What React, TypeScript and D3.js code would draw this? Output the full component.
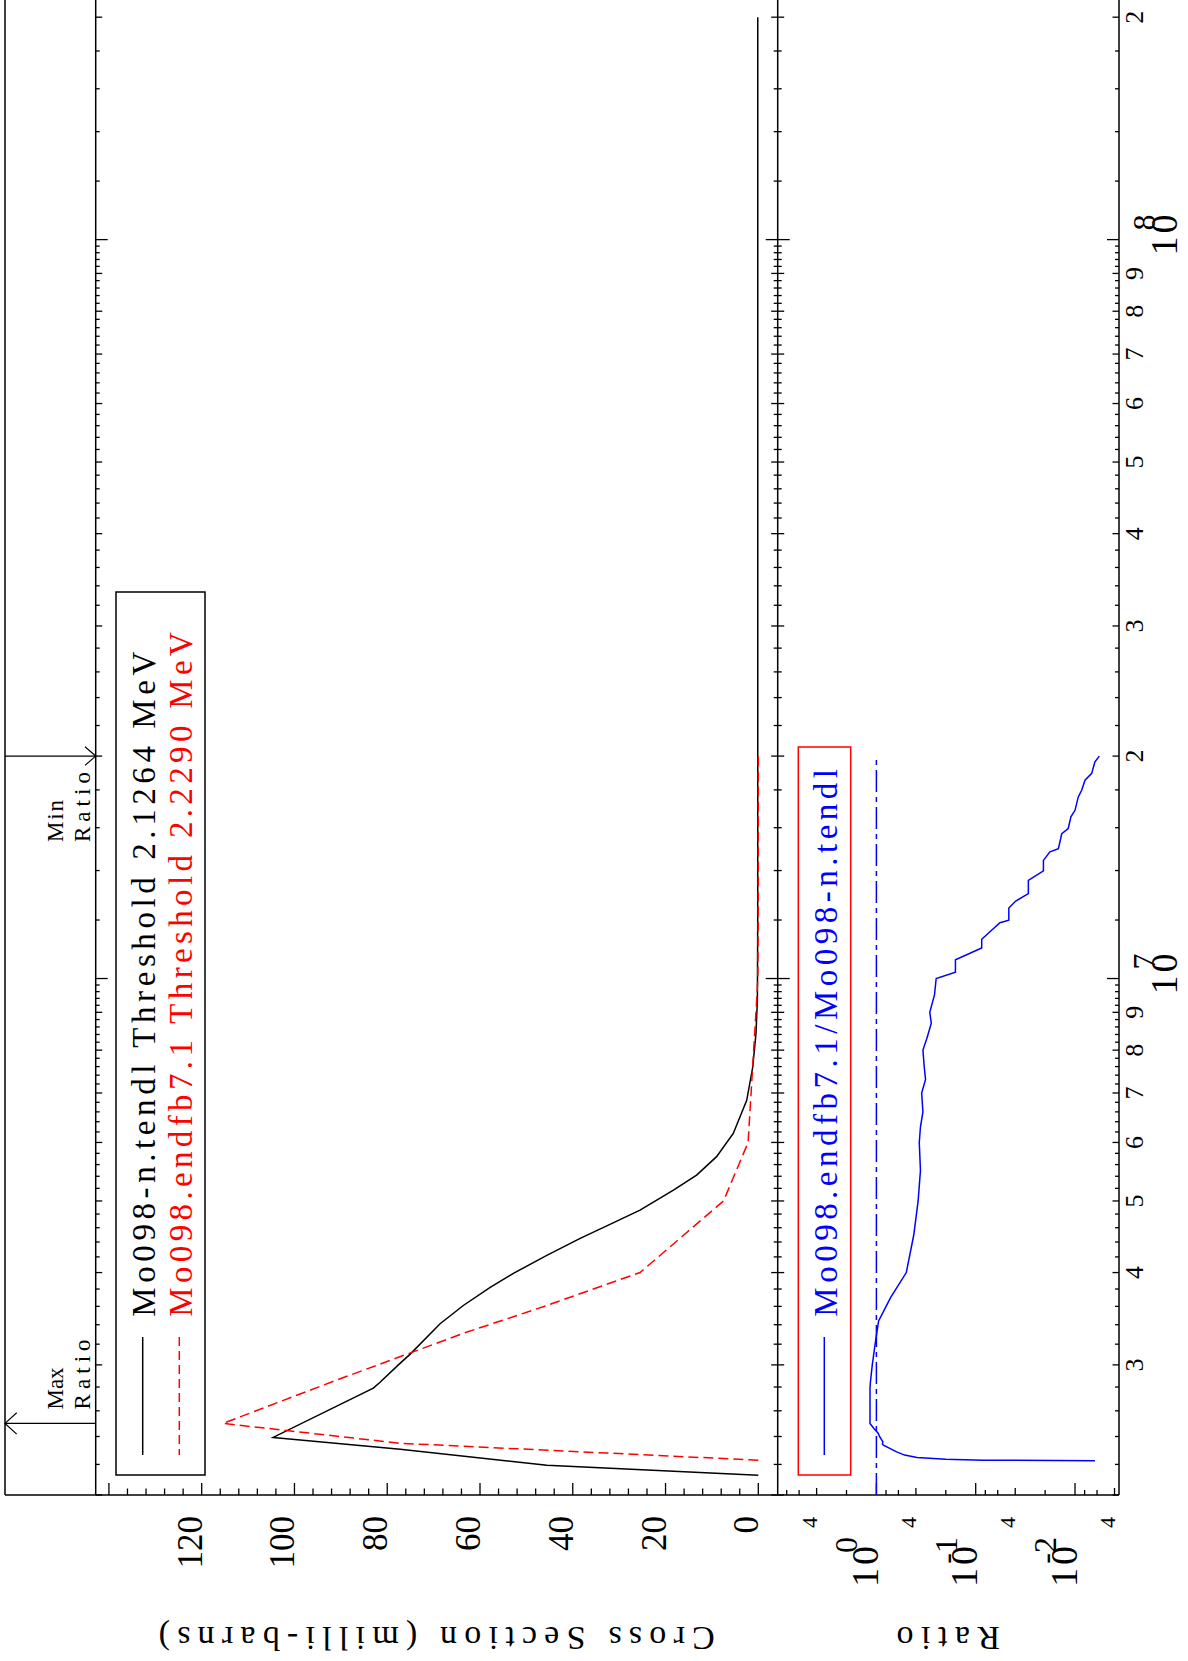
import React from "react";
import * as d3 from "d3";

// ---------- data (energies in MeV) ----------
const tendlE = [2.1264, 2.194, 2.307, 2.393, 2.79, 2.84, 3.0, 3.1, 3.41, 3.61, 3.82, 3.99, 4.22, 4.45, 4.67, 4.86, 5.17, 5.42, 5.74, 6.17, 6.84, 7.59, 8.43, 9.35, 12, 20, 50, 100, 200];
const tendlXS = [0, 45.6, 77.2, 104.6, 83.0, 81.6, 77.6, 75.1, 68.6, 63.6, 57.8, 52.8, 45.6, 38.4, 31.3, 25.5, 18.3, 13.3, 9.0, 5.4, 2.5, 1.2, 0.5, 0.2, 0.13, 0.12, 0.12, 0.12, 0.12];

const endfE = [2.229, 2.35, 2.5, 2.86, 3.0, 3.31, 3.61, 4.0, 5.0, 6.0, 9.35, 10, 12, 15, 20];
const endfXS = [0, 77.3, 115.4, 91, 82, 63.6, 45.6, 25.5, 7.5, 2.2, 0.35, 0.1, 0.03, 0.01, 0.001];

const ratioE = [2.2245, 2.2296, 2.235, 2.248, 2.265, 2.288, 2.336, 2.345, 2.36, 2.4, 2.425, 2.46, 2.5, 2.79, 2.84, 3.0, 3.2, 3.44, 3.7, 4.0, 4.5, 5.0, 5.5, 6.0, 6.3, 6.6, 7.0, 7.3, 7.6, 8.0, 8.3, 8.7, 9.0, 9.5, 10.0, 10.2, 10.6, 11.0, 11.3, 11.9, 11.99, 12.46, 12.73, 13.03, 13.58, 13.99, 14.45, 14.84, 14.99, 15.7, 15.96, 16.55, 16.89, 17.61, 17.98, 18.55, 18.95, 19.65, 20.0];
const ratioVal = [0.0063, 0.084, 0.2, 0.39, 0.52, 0.625, 0.85, 0.87, 0.86, 0.93, 0.96, 1.06, 1.16, 1.16, 1.15, 1.1, 1.03, 0.95, 0.72, 0.5, 0.42, 0.38, 0.36, 0.37, 0.36, 0.34, 0.35, 0.32, 0.33, 0.34, 0.31, 0.28, 0.29, 0.26, 0.25, 0.16, 0.16, 0.087, 0.087, 0.057, 0.0464, 0.0464, 0.0395, 0.0295, 0.0295, 0.0208, 0.0208, 0.0179, 0.0147, 0.0136, 0.0117, 0.011, 0.01, 0.00927, 0.00857, 0.00793, 0.00679, 0.0063, 0.00569];

const xsTickLabels = [0, 20, 40, 60, 80, 100, 120];
const ratioFourLabels = [4, 0.4, 0.04, 0.004];
const ratioDecades = [1, 0.1, 0.01];
const ratioDecadeExp = ["0", "-1", "-2"];
const energyDigitLabels = [3e6, 4e6, 5e6, 6e6, 7e6, 8e6, 9e6, 2e7, 3e7, 4e7, 5e7, 6e7, 7e7, 8e7, 9e7, 2e8];
const energyDecades = [1e7, 1e8];
const energyDecadeExp = ["7", "8"];
const maxRatioE = 2.5e6;
const minRatioE = 2.0e7;

const legendTendl = "Mo098-n.tendl Threshold 2.1264 MeV";
const legendEndf = "Mo098.endfb7.1 Threshold 2.2290 MeV";
const legendRatio = "Mo098.endfb7.1/Mo098-n.tendl";
const titleXS = "Cross Section (milli-barns)";
const titleRatio = "Ratio";

// ---------- layout ----------
const W = 1188, H = 1661;
const X_OUT = 5, X_LEFT = 95.7, X_DIV = 777.7, X_RIGHT = 1119, Y_BOT = 1495, Y_TOP = 0;
const NUM = "'Liberation Serif', 'Times New Roman', serif";
const TXT = "'Liberation Serif', 'Times New Roman', serif";

const yE = d3.scaleLog().domain([2e6, 2.11e8]).range([Y_BOT, Y_TOP]);
const xS = d3.scaleLinear().domain([-4.18, 142.85]).range([X_DIV, X_LEFT]);
const xR = d3.scaleLog().domain([9.86, 0.003606]).range([X_DIV, X_RIGHT]);

type P = [number, number];
const zip = (a: number[], b: number[]): P[] => a.map((v, i) => [v, b[i]]);

const lineXS = d3.line<P>().x(d => xS(d[1])).y(d => yE(d[0] * 1e6));
const lineR = d3.line<P>().x(d => xR(d[1])).y(d => yE(d[0] * 1e6));

function energyTicks() {
  const out: { v: number; len: number }[] = [];
  for (const dec of [1e6, 1e7, 1e8]) {
    for (let i = 5; i < 50; i++) {
      const m = i / 5;
      const v = m * dec;
      if (v < 2e6 || v > 2.11e8) continue;
      const len = i === 5 ? 12 : i % 5 === 0 ? 6.5 : 4;
      out.push({ v, len });
    }
  }
  return out;
}

function ratioTicks() {
  const out: { v: number; len: number }[] = [];
  for (const dec of [1, 0.1, 0.01, 0.001]) {
    for (const m of [1, 2, 4, 6, 8]) {
      const v = m * dec;
      if (v > 9.86 || v < 0.003606) continue;
      out.push({ v, len: m === 1 ? 12 : m === 4 ? 7 : 5 });
    }
  }
  return out;
}

// monospace-like text: fixed advance per character
function Mono(props: { x: number; y: number; rot: number; size: number; adv: number; text: string; fill?: string; anchor?: string }) {
  const { x, y, rot, size, adv, text, fill = "#000", anchor = "start" } = props;
  return (
    <text transform={`translate(${x},${y}) rotate(${rot})`} textAnchor={anchor} fontSize={size} fontFamily={TXT} fill={fill}
      textLength={adv * text.length} lengthAdjust="spacing">{text}</text>
  );
}

export default function App() {
  const eTicks = energyTicks();
  const rTicks = ratioTicks();
  const xsMinor: number[] = [];
  for (let v = 0; v <= 140; v += 4) xsMinor.push(v);
  const yMax = yE(maxRatioE);
  const yMin = yE(minRatioE);
  const sw = 1.5;

  return (
    <svg width={W} height={H} viewBox={`0 0 ${W} ${H}`} style={{ position: "absolute", left: 0, top: 0, background: "#fff" }}>
      <defs>
        <clipPath id="upper"><rect x={X_LEFT} y={Y_TOP} width={X_DIV - X_LEFT} height={Y_BOT - Y_TOP} /></clipPath>
        <clipPath id="lower"><rect x={X_DIV} y={Y_TOP} width={X_RIGHT - X_DIV} height={Y_BOT - Y_TOP} /></clipPath>
      </defs>
      <rect x={0} y={0} width={W} height={H} fill="#fff" />

      {/* frame */}
      <g stroke="#000" strokeWidth={sw} fill="none">
        <line x1={X_OUT} y1={Y_TOP} x2={X_OUT} y2={Y_BOT} />
        <line x1={X_LEFT} y1={Y_TOP} x2={X_LEFT} y2={Y_BOT} />
        <line x1={X_DIV} y1={Y_TOP} x2={X_DIV} y2={Y_BOT} />
        <line x1={X_RIGHT} y1={Y_TOP} x2={X_RIGHT} y2={Y_BOT} />
        <line x1={X_OUT} y1={Y_BOT} x2={X_RIGHT} y2={Y_BOT} />
      </g>

      {/* energy ticks */}
      <g stroke="#000" strokeWidth={1.3}>
        {eTicks.map((t, i) => {
          const y = yE(t.v);
          return (
            <g key={i}>
              <line x1={X_LEFT} y1={y} x2={X_LEFT + t.len} y2={y} />
              <line x1={X_DIV - t.len} y1={y} x2={X_DIV + t.len} y2={y} />
              <line x1={X_RIGHT - t.len} y1={y} x2={X_RIGHT} y2={y} />
            </g>
          );
        })}
      </g>

      {/* cross section + ratio ticks */}
      <g stroke="#000" strokeWidth={1.3}>
        {xsMinor.map(v => (
          <line key={v} x1={xS(v)} y1={Y_BOT} x2={xS(v)} y2={Y_BOT - (v % 20 === 0 ? 12 : 6.5)} />
        ))}
        {rTicks.map((t, i) => (
          <line key={"r" + i} x1={xR(t.v)} y1={Y_BOT} x2={xR(t.v)} y2={Y_BOT - t.len} />
        ))}
      </g>

      {/* cross section labels */}
      {xsTickLabels.map(v => (
        <text key={v} transform={`translate(${xS(v)},1516) rotate(-90)`} textAnchor="end" fontSize={35} fontFamily={NUM}>{v}</text>
      ))}

      {/* ratio labels */}
      {ratioFourLabels.map(v => (
        <text key={v} transform={`translate(${xR(v)},1517) rotate(-90)`} textAnchor="end" fontSize={22} fontFamily={NUM}>4</text>
      ))}
      {ratioDecades.map((v, i) => (
        <g key={v}>
          <text transform={`translate(${xR(v) + 1.5},1587) rotate(-90)`} textAnchor="start" fontSize={38} letterSpacing={3} fontFamily={NUM}>10</text>
          <text transform={`translate(${xR(v) - 19},1537) rotate(-90)`} textAnchor="end" fontSize={32} fontFamily={NUM}>{ratioDecadeExp[i]}</text>
        </g>
      ))}

      {/* energy labels */}
      {energyDigitLabels.map(v => (
        <text key={v} transform={`translate(1143,${yE(v)}) rotate(-90)`} textAnchor="middle" fontSize={26} fontFamily={NUM}>
          {String(Math.round(v / Math.pow(10, Math.floor(Math.log10(v) + 1e-9))))}
        </text>
      ))}
      {energyDecades.map((v, i) => (
        <g key={v}>
          <text transform={`translate(1177,${yE(v) + 16}) rotate(-90)`} textAnchor="start" fontSize={38} letterSpacing={3} fontFamily={NUM}>10</text>
          <text transform={`translate(1155,${yE(v) - 9}) rotate(-90)`} textAnchor="start" fontSize={32} fontFamily={NUM}>{energyDecadeExp[i]}</text>
        </g>
      ))}

      {/* axis titles */}
      <Mono x={(X_LEFT + X_DIV) / 2} y={1627} rot={180} size={34} adv={20.6} text={titleXS} anchor="middle" />
      <Mono x={(X_DIV + X_RIGHT) / 2} y={1627} rot={180} size={34} adv={20.7} text={titleRatio} anchor="middle" />

      {/* max / min ratio markers */}
      <g stroke="#000" strokeWidth={1.2} fill="none">
        <line x1={X_OUT} y1={yMax} x2={X_LEFT} y2={yMax} />
        <polyline points={`${X_OUT + 11.7},${yMax - 10.7} ${X_OUT},${yMax} ${X_OUT + 11.7},${yMax + 10.7}`} />
        <line x1={X_OUT} y1={yMin} x2={X_LEFT} y2={yMin} />
        <polyline points={`${X_LEFT - 10.7},${yMin - 9.3} ${X_LEFT},${yMin} ${X_LEFT - 10.7},${yMin + 9.3}`} />
      </g>
      <Mono x={63} y={yMax - 14} rot={-90} size={23} adv={14} text="Max" />
      <Mono x={90} y={yMax - 14} rot={-90} size={23} adv={14} text="Ratio" />
      <Mono x={63} y={yMin + 86} rot={-90} size={23} adv={14} text="Min" />
      <Mono x={90} y={yMin + 86} rot={-90} size={23} adv={14} text="Ratio" />

      {/* curves upper panel */}
      <g clipPath="url(#upper)" fill="none">
        <path d={lineXS(zip(tendlE, tendlXS)) || ""} stroke="#000" strokeWidth={1.5} />
        <path d={lineXS(zip(endfE, endfXS)) || ""} stroke="#ff0000" strokeWidth={1.5} strokeDasharray="10,5" />
      </g>

      {/* ratio panel */}
      <g clipPath="url(#lower)" fill="none">
        <line x1={xR(1)} y1={yE(2e6)} x2={xR(1)} y2={yE(2e7)} stroke="#0000ff" strokeWidth={1.5} strokeDasharray="22,5,5,5" />
        <path d={lineR(zip(ratioE, ratioVal)) || ""} stroke="#0000ff" strokeWidth={1.5} />
      </g>

      {/* legend 1 */}
      <rect x={116} y={592} width={89} height={883} fill="#fff" stroke="#000" strokeWidth={1.5} />
      <line x1={142.7} y1={1337} x2={142.7} y2={1455} stroke="#000" strokeWidth={1.5} />
      <line x1={179.3} y1={1337} x2={179.3} y2={1455} stroke="#ff0000" strokeWidth={1.5} strokeDasharray="9,5" />
      <Mono x={155} y={1316.7} rot={-90} size={33} adv={19.56} text={legendTendl} />
      <Mono x={191.7} y={1316.7} rot={-90} size={33} adv={19.56} text={legendEndf} fill="#ff0000" />

      {/* legend 2 */}
      <rect x={798.3} y={747} width={52.4} height={728} fill="#fff" stroke="#ff0000" strokeWidth={1.5} />
      <line x1={824.3} y1={1337} x2={824.3} y2={1455} stroke="#0000ff" strokeWidth={1.5} />
      <Mono x={836.5} y={1316.7} rot={-90} size={33} adv={19.56} text={legendRatio} fill="#0000ff" />
    </svg>
  );
}
